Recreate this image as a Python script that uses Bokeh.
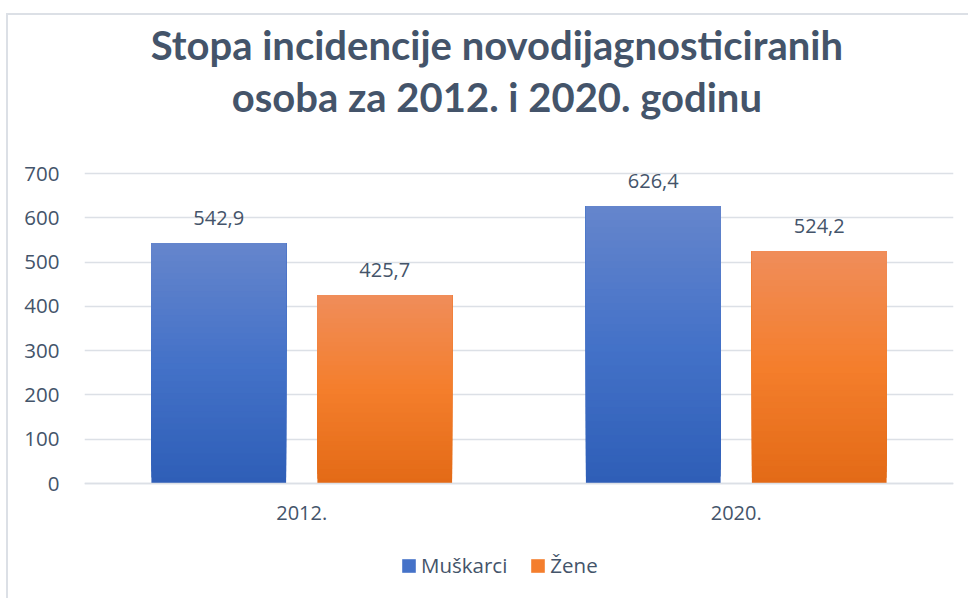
from bokeh.plotting import figure
from bokeh.models import (FactorRange, Range1d, FixedTicker, Label, Legend,
                          LegendItem, ColumnDataSource)
from bokeh.transform import dodge
from bokeh.core.properties import value
from bokeh.embed import file_html
from bokeh.resources import INLINE

# ---------------- data ----------------
categories = ["2012.", "2020."]
muskarci = [542.9, 626.4]
zene = [425.7, 524.2]
series_names = ["Muškarci", "Žene"]
y_ticks = [0, 100, 200, 300, 400, 500, 600, 700]
title_lines = ["Stopa incidencije novodijagnosticiranih",
               "osoba za 2012. i 2020. godinu"]

# ---------------- style / layout ----------------
TEXT = "#44546A"
GRID = "#DCE0E6"
FONT = "Open Sans"
blue_stops = [(101, 133, 204), (68, 114, 200), (46, 94, 183)]
orange_stops = [(240, 141, 90), (244, 126, 44), (227, 106, 22)]
N_SEG = 40
OFFSET = 0.191
BAR_W = 0.31

CANVAS_H = 583          # canvas height (page has 15 px of margin/border above)
ZERO_PX = 468           # canvas y of value 0
SCALE = 310 / 700       # px per unit
Y_HI = ZERO_PX / SCALE
Y_LO = -(CANVAS_H - ZERO_PX) / SCALE


def grad(stops, t):
    if t <= 0.5:
        a, b, u = stops[0], stops[1], t / 0.5
    else:
        a, b, u = stops[1], stops[2], (t - 0.5) / 0.5
    c = [round(a[i] + (b[i] - a[i]) * u) for i in range(3)]
    return "#%02x%02x%02x" % tuple(c)


def seg_source(values, stops):
    # each segment runs from its own bottom up to the bar top; later segments
    # overlap earlier ones, which gives a seamless vertical gradient
    cats, bots, tops, cols = [], [], [], []
    for cat, v in zip(categories, values):
        for k in range(N_SEG):
            cats.append(cat)
            bots.append(v * k / N_SEG)
            tops.append(v)
            cols.append(grad(stops, 1 - (k + 0.5) / N_SEG))
    return ColumnDataSource(dict(cat=cats, bottom=bots, top=tops, color=cols))


p = figure(x_range=FactorRange(*categories, range_padding=0),
           y_range=Range1d(Y_LO, Y_HI),
           frame_width=869, frame_height=CANVAS_H,
           min_border_left=76, min_border_right=15,
           min_border_top=0, min_border_bottom=0,
           output_backend="svg", toolbar_location=None,
           background_fill_color="white", border_fill_color="white")
p.outline_line_color = None
p.styles = {"margin-left": "6px", "margin-top": "13px",
            "border-left": "2px solid #DCE0E6",
            "border-top": "2px solid #DCE0E6"}

renderers = []
for vals, stops, off in [(muskarci, blue_stops, -OFFSET), (zene, orange_stops, OFFSET)]:
    src = seg_source(vals, stops)
    r = p.vbar(x=dodge("cat", off, range=p.x_range), width=BAR_W,
               bottom="bottom", top="top", source=src,
               fill_color="color", line_color=None)
    renderers.append(r)

    lab = ColumnDataSource(dict(cat=categories, y=vals,
                                txt=[f"{v:.1f}".replace(".", ",") for v in vals]))
    p.text(x=dodge("cat", off, range=p.x_range), y="y", text="txt", source=lab,
           text_align="center", text_baseline="middle", y_offset=-25,
           text_font=value(FONT), text_font_size="20px", text_color=TEXT)

# axes
p.yaxis.ticker = FixedTicker(ticks=y_ticks)
p.yaxis.axis_line_color = None
p.yaxis.major_tick_line_color = None
p.yaxis.minor_tick_line_color = None
p.yaxis.major_label_standoff = 19
p.yaxis.major_label_text_font = FONT
p.yaxis.major_label_text_font_size = "20.5px"
p.yaxis.major_label_text_color = TEXT

p.xaxis.fixed_location = 0
p.xaxis.axis_line_color = GRID
p.xaxis.axis_line_width = 1.5
p.xaxis.major_tick_line_color = None
p.xaxis.minor_tick_line_color = None
p.xaxis.major_label_standoff = 16
p.xaxis.major_label_text_font = FONT
p.xaxis.major_label_text_font_size = "20px"
p.xaxis.major_label_text_color = TEXT

p.xgrid.grid_line_color = None
p.ygrid.grid_line_color = GRID
p.ygrid.grid_line_width = 1.5

# title (two lines)
for line, yv in zip(title_lines, [Y_HI - 29 / SCALE, Y_HI - 81 / SCALE]):
    p.add_layout(Label(x=0.949, y=yv, text=line, text_align="center",
                       text_baseline="alphabetic", text_font="Lato",
                       text_font_style="bold", text_font_size="40px",
                       text_color=TEXT))

# legend
legend = Legend(items=[LegendItem(label=series_names[0], renderers=[renderers[0]], index=N_SEG // 2),
                       LegendItem(label=series_names[1], renderers=[renderers[1]], index=N_SEG // 2)],
                orientation="horizontal", location=(316, 19),
                glyph_width=17, glyph_height=17, label_standoff=4, spacing=22,
                padding=0, margin=0, border_line_color=None,
                background_fill_alpha=0,
                label_text_font=FONT, label_text_font_size="20.5px",
                label_text_color=TEXT)
p.add_layout(legend, "center")

open("out.html", "w").write(file_html(p, INLINE))
